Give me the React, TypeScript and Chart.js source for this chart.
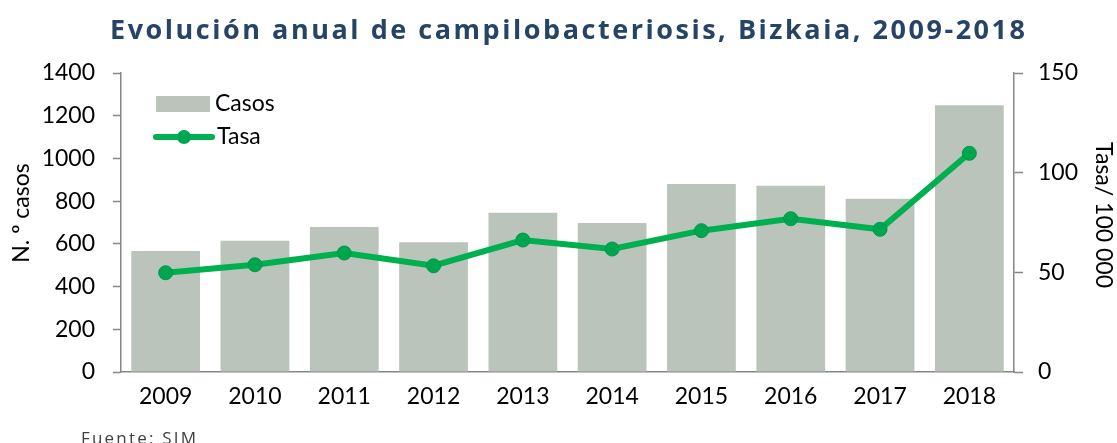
import React, { useEffect, useRef } from "react";
import { Chart, registerables } from "chart.js";

Chart.register(...registerables);

const years = ["2009", "2010", "2011", "2012", "2013", "2014", "2015", "2016", "2017", "2018"];
const casos = [566, 615, 679, 607, 746, 698, 880, 872, 811, 1249];
const tasa = [49.8, 53.8, 59.7, 53.3, 66.2, 61.7, 70.9, 76.9, 71.6, 109.7];
const leftMax = 1400;
const leftStep = 200;
const rightMax = 150;
const rightStep = 50;

const TITLE = "Evolución anual de campilobacteriosis, Bizkaia, 2009-2018";
const SOURCE = "Fuente: SIM";
const LEFT_TITLE = "N. º casos";
const RIGHT_TITLE = "Tasa/ 100 000";
const BAR_LABEL = "Casos";
const LINE_LABEL = "Tasa";

const BAR_COLOR = "#BAC4BA";
const LINE_COLOR = "#00B050";
const POINT_COLOR = "#00A64F";
const AXIS_COLOR = "#868686";
const TITLE_COLOR = "#264466";
const FONT = "Lato";
const FS = 23;

const decor = {
  id: "decor",
  afterDraw(chart: any) {
    const ctx = chart.ctx as CanvasRenderingContext2D;
    const ca = chart.chartArea;
    ctx.save();
    // Title
    ctx.font = `bold 27px "Open Sans"`;
    ctx.fillStyle = TITLE_COLOR;
    ctx.textAlign = "left";
    ctx.textBaseline = "alphabetic";
    (ctx as any).letterSpacing = "0px";
    const w0 = ctx.measureText(TITLE).width;
    const sp = (915 - w0) / (TITLE.length - 1);
    (ctx as any).letterSpacing = `${sp}px`;
    ctx.fillText(TITLE, 110, 39);

    // Source
    ctx.font = `17px "Open Sans"`;
    (ctx as any).letterSpacing = "0px";
    const s0 = ctx.measureText(SOURCE).width;
    (ctx as any).letterSpacing = `${(115 - s0) / (SOURCE.length - 1)}px`;
    ctx.fillStyle = "#404040";
    ctx.fillText(SOURCE, 81, 444);
    (ctx as any).letterSpacing = "0px";

    // Axis titles
    ctx.font = `${FS}px ${FONT}`;
    ctx.fillStyle = "#000";
    ctx.textAlign = "center";
    ctx.textBaseline = "middle";
    ctx.save();
    ctx.translate(22, 213);
    ctx.rotate(-Math.PI / 2);
    ctx.fillText(LEFT_TITLE, 0, 0);
    ctx.restore();
    ctx.save();
    ctx.translate(1103, 215);
    ctx.rotate(Math.PI / 2);
    ctx.fillText(RIGHT_TITLE, 0, 0);
    ctx.restore();

    // Legend
    const lx = ca.left + 35;
    const barDs = chart.data.datasets[1];
    const lineDs = chart.data.datasets[0];
    ctx.fillStyle = barDs.backgroundColor;
    ctx.fillRect(lx, 96, 54, 16);
    ctx.fillStyle = "#000";
    ctx.textAlign = "left";
    ctx.fillText(barDs.label, lx + 59, 104);
    ctx.strokeStyle = lineDs.borderColor;
    ctx.lineWidth = 6;
    ctx.lineCap = "round";
    ctx.beginPath();
    ctx.moveTo(lx, 137);
    ctx.lineTo(lx + 56, 137);
    ctx.stroke();
    ctx.fillStyle = lineDs.pointBackgroundColor;
    ctx.beginPath();
    ctx.arc(lx + 28, 137, 7, 0, Math.PI * 2);
    ctx.fill();
    ctx.fillStyle = "#000";
    ctx.fillText(lineDs.label, lx + 61, 137);
    ctx.restore();
  },
};

const plain = (v: any) => String(v);

export default function App() {
  const ref = useRef<HTMLCanvasElement | null>(null);
  useEffect(() => {
    document.body.style.margin = "0";
    const chart = new Chart(ref.current as HTMLCanvasElement, {
      type: "bar",
      data: {
        labels: years,
        datasets: [
          {
            type: "line",
            label: LINE_LABEL,
            data: tasa,
            yAxisID: "y1",
            borderColor: LINE_COLOR,
            borderWidth: 6,
            pointRadius: 7,
            pointBackgroundColor: POINT_COLOR,
            pointBorderColor: "#009846",
            pointBorderWidth: 1,
            tension: 0,
            order: 0,
          } as any,
          {
            type: "bar",
            label: BAR_LABEL,
            data: casos,
            yAxisID: "y",
            backgroundColor: BAR_COLOR,
            borderWidth: 0,
            barPercentage: 0.77,
            categoryPercentage: 1,
            order: 1,
          },
        ],
      },
      options: {
        animation: false,
        responsive: false,
        devicePixelRatio: 1,
        layout: { padding: { top: 73, left: 0, right: 0, bottom: 0 } },
        plugins: { legend: { display: false }, tooltip: { enabled: false }, title: { display: false } },
        scales: {
          x: {
            grid: { display: true, drawOnChartArea: false, drawTicks: false },
            border: { display: true, color: AXIS_COLOR, width: 1.5 },
            ticks: { color: "#000", font: { family: FONT, size: FS }, padding: 11 },
            afterFit: (s: any) => {
              s.height = 71;
            },
          },
          y: {
            position: "left",
            min: 0,
            max: leftMax,
            grid: { drawOnChartArea: false, tickLength: 8, tickColor: AXIS_COLOR, tickWidth: 1.5 },
            border: { display: true, color: AXIS_COLOR, width: 1.5 },
            ticks: { stepSize: leftStep, callback: plain, color: "#000", font: { family: FONT, size: FS }, padding: 18 },
            afterFit: (s: any) => {
              s.width = 121;
            },
          },
          y1: {
            position: "right",
            min: 0,
            max: rightMax,
            grid: { drawOnChartArea: false, tickLength: 9, tickColor: AXIS_COLOR, tickWidth: 1.5 },
            border: { display: true, color: AXIS_COLOR, width: 1.5 },
            ticks: { stepSize: rightStep, callback: plain, color: "#000", font: { family: FONT, size: FS }, padding: 15 },
            afterFit: (s: any) => {
              s.width = 103;
            },
          },
        },
      },
      plugins: [decor],
    });
    return () => chart.destroy();
  }, []);
  return (
    <div style={{ position: "fixed", left: 0, top: 0, width: 1117, height: 443 }}>
      <canvas ref={ref} width={1117} height={443} />
    </div>
  );
}
